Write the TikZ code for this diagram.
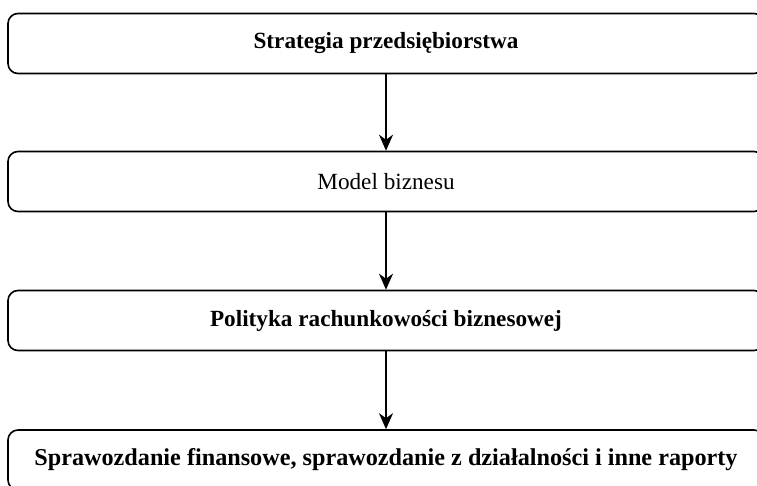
\documentclass[tikz,border=0pt]{standalone}
\usepackage{fontspec}
\setmainfont{Liberation Serif}
\usetikzlibrary{arrows.meta}

\begin{document}
\begin{tikzpicture}[x=1pt,y=-1pt,
    box/.style={draw, line width=1.6pt, rounded corners=10pt,
      minimum width=756pt, minimum height=60pt, inner sep=0pt,
      font=\fontsize{23.2}{26}\selectfont},
    arr/.style={-{Stealth[length=16pt,width=14pt,inset=5pt]}, line width=1.5pt}]
    \useasboundingbox (0,0) rectangle (757,485);
    \clip (0,0) rectangle (757,485);
    % levels
    \node[box] (strategia) at (386,43.5) {\bfseries Strategia przedsiębiorstwa};
    \node[box] (model) at (386,181.5) {Model biznesu};
    \node[box] (polityka) at (386,320.5) {\bfseries Polityka rachunkowości biznesowej};
    \node[box, font=\fontsize{24.2}{27}\selectfont] (raporty) at (386,460)
      {\bfseries Sprawozdanie finansowe, sprawozdanie z działalności i inne raporty};
    % flow
    \draw[arr] (strategia) -- (model);
    \draw[arr] (model) -- (polityka);
    \draw[arr] (polityka) -- (raporty);
\end{tikzpicture}
\end{document}
